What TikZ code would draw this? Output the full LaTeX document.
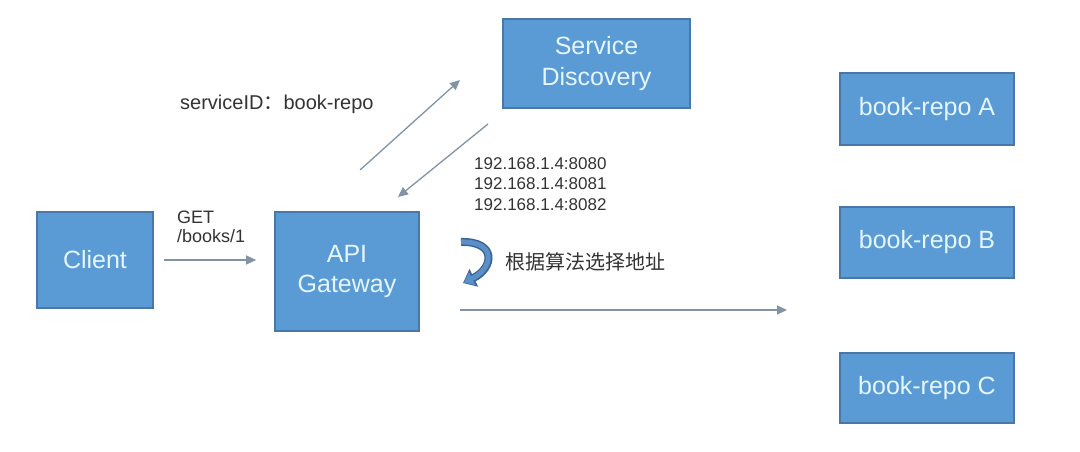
\documentclass[tikz,border=0pt]{standalone}
\usepackage{fontspec}
\setmainfont{Liberation Sans}
\newfontfamily\cjk{Noto Sans CJK SC}
\usetikzlibrary{arrows.meta}
\definecolor{boxfill}{HTML}{5B9BD5}
\definecolor{boxline}{HTML}{4A76A8}
\definecolor{boxtext}{HTML}{E4F6FF}
\definecolor{arrowgray}{HTML}{8293A6}
\definecolor{curvedark}{HTML}{3A6496}
\definecolor{curvelight}{HTML}{5B8FC8}
\definecolor{labeltext}{HTML}{333333}
\begin{document}
\begin{tikzpicture}[x=1pt,y=-1pt,
  box/.style={draw=boxline, line width=1.6pt, fill=boxfill, text=boxtext, inner sep=0pt,
    align=center, font=\fontsize{25}{30.5}\selectfont},
  conn/.style={draw=arrowgray, line width=1.3pt, -{Triangle[length=10pt,width=9pt]}},
  lbl/.style={inner sep=0pt, text=labeltext, align=left}
]
\path[use as bounding box, fill=white] (0,0) rectangle (1080,452);

\node[box, minimum width=116pt, minimum height=96pt] (client) at (95,260) {Client};
\node[box, minimum width=144pt, minimum height=119pt] (gw) at (347,271.5) {API\\Gateway};
\node[box, minimum width=187pt, minimum height=89pt] (sd) at (596.5,63.5) {Service\\Discovery};
\node[box, minimum width=174pt, minimum height=72pt] (ra) at (927,109) {book-repo A};
\node[box, minimum width=174pt, minimum height=71pt] (rb) at (927,242.5) {book-repo B};
\node[box, minimum width=174pt, minimum height=70pt] (rc) at (927,388) {book-repo C};

% connectors
\draw[conn, shorten <=10pt, shorten >=18pt] (client.east |- 0,260) -- (gw.west |- 0,260);
\coordinate (upA) at (360,170);
\coordinate (upB) at (460,80);
\draw[conn] (upA) -- (upB);
\coordinate (dnA) at (488,124);
\coordinate (dnB) at (398,197);
\draw[conn] (dnA) -- (dnB);
\coordinate (lgA) at (460,310);
\coordinate (lgB) at (787,310);
\draw[conn] (lgA) -- (lgB);

% labels
\node[lbl, anchor=base west, font=\fontsize{20}{24}\selectfont] (sid) at (180,110) {serviceID{\cjk ：}book-repo};
\node[lbl, anchor=base west, font=\fontsize{18}{19}\selectfont] (get) at (177,242) {GET\\/books/1};
\node[lbl, anchor=base west, font=\fontsize{17}{20.5}\selectfont] (ips) at (474,210) {192.168.1.4:8080\\192.168.1.4:8081\\192.168.1.4:8082};
\node[lbl, anchor=west, font=\cjk\fontsize{20}{24}\selectfont] (algo) at (505,262) {根据算法选择地址};

% curved arrow icon
\draw[curvedark, line width=8pt, -{Triangle[length=12pt,width=19pt]}]
  (461,242) .. controls (497,241) and (494,268) .. (463,283);
\draw[curvelight, line width=5pt, -{Triangle[length=9pt,width=14pt]}]
  (461,242) .. controls (497,241) and (494,268) .. (464,282.5);
\end{tikzpicture}
\end{document}
